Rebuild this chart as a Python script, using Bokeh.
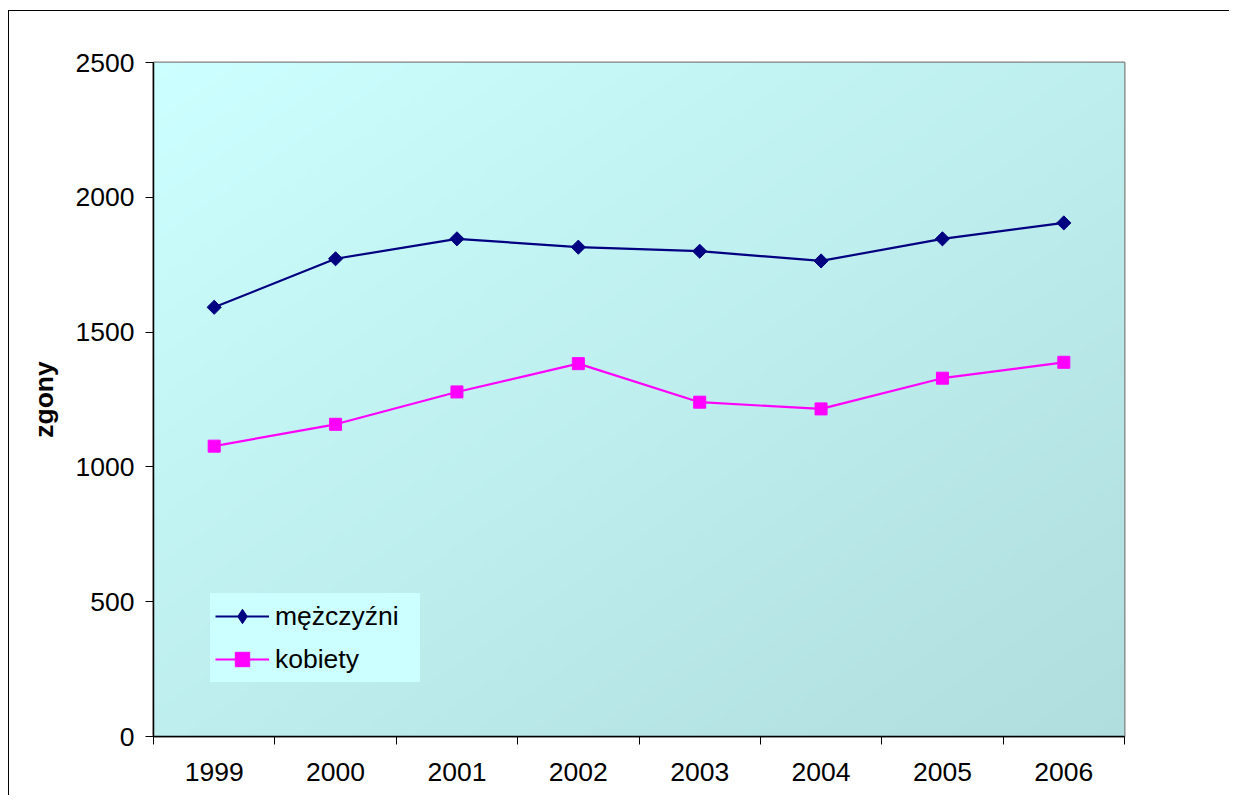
import numpy as np
from bokeh.plotting import figure
from bokeh.models import FixedTicker, Range1d, Legend, LegendItem
from bokeh.embed import file_html
from bokeh.resources import INLINE

years = ["1999", "2000", "2001", "2002", "2003", "2004", "2005", "2006"]
men = [1592, 1772, 1846, 1815, 1800, 1764, 1846, 1905]
women = [1077, 1158, 1278, 1383, 1240, 1215, 1329, 1388]
y_ticks = [0, 500, 1000, 1500, 2000, 2500]
series_names = ["mężczyźni", "kobiety"]

FONT = "Liberation Sans"
FS = "26.5px"
x_start, x_end = 0, len(years)
y_start, y_end = 0, 2500
centers = [i + 0.5 for i in range(len(years))]
bounds = list(range(len(years) + 1))

p = figure(width=1229, height=795, output_backend="svg", toolbar_location=None,
           x_range=Range1d(x_start, x_end), y_range=Range1d(y_start, y_end),
           min_border_left=153, min_border_right=105, min_border_top=62, min_border_bottom=59)
p.styles = {
    "background": "linear-gradient(#000,#000) 8px 10px / 1px 100% no-repeat, "
                  "linear-gradient(#000,#000) 8px 10px / 100% 1px no-repeat, #fff",
}
p.background_fill_color = "white"
p.border_fill_color = "white"
p.border_fill_alpha = 0
p.outline_line_color = "#808080"
p.outline_line_width = 2
p.xgrid.visible = False
p.ygrid.visible = False

# diagonal gradient background of the plot area (light top-left, darker bottom-right)
ny, nx = 337, 486
yy, xx = np.mgrid[0:ny, 0:nx]
t = (xx / (nx - 1) + (1 - yy / (ny - 1))) / 2.0   # image row 0 is at the bottom
c0 = np.array([204, 255, 255])
c1 = np.array([176, 221, 221])
img = np.empty((ny, nx), dtype=np.uint32)
view = img.view(dtype=np.uint8).reshape((ny, nx, 4))
for k in range(3):
    view[:, :, k] = np.round(c0[k] + (c1[k] - c0[k]) * t).astype(np.uint8)
view[:, :, 3] = 255
p.image_rgba(image=[img], x=x_start, y=y_start, dw=x_end - x_start, dh=y_end - y_start)

NAVY, MAG = "#000080", "#FF00FF"
l1 = p.line(centers, men, line_color=NAVY, line_width=2.2)
p.scatter(centers, men, marker="square", angle=np.pi / 4, size=10, fill_color=NAVY, line_color=NAVY)
leg_d = p.scatter([np.nan], [np.nan], marker="diamond", size=18, fill_color=NAVY, line_color=NAVY)
l2 = p.line(centers, women, line_color=MAG, line_width=2.2)
s2 = p.scatter(centers, women, marker="square", size=12, fill_color=MAG, line_color=MAG)

legend = Legend(items=[LegendItem(label=series_names[0], renderers=[l1, leg_d]),
                       LegendItem(label=series_names[1], renderers=[l2, s2])])
p.add_layout(legend, "center")
legend.location = (57, 54)
legend.margin = 0
legend.padding = 0
legend.spacing = 7
legend.glyph_width = 54
legend.glyph_height = 36
legend.label_height = 36
legend.label_width = 140
legend.label_standoff = 6
legend.label_text_font = FONT
legend.label_text_font_size = FS
legend.label_text_color = "black"
legend.background_fill_color = "#CCFFFF"
legend.background_fill_alpha = 1
legend.border_line_color = "#CCFFFF"
legend.border_line_width = 5

# x axis: labels at category centres, tick marks at category boundaries
p.xaxis.ticker = FixedTicker(ticks=centers, minor_ticks=bounds)
p.xaxis.major_label_overrides = {c: y for c, y in zip(centers, years)}
p.xaxis.major_tick_line_color = None
p.xaxis.major_tick_out = 0
p.xaxis.major_tick_in = 0
p.xaxis.minor_tick_line_color = "black"
p.xaxis.minor_tick_out = 8
p.xaxis.minor_tick_in = 0
p.xaxis.major_label_standoff = 18
p.xaxis.axis_line_color = "black"
p.xaxis.axis_line_width = 1.5

# y axis
p.yaxis.ticker = FixedTicker(ticks=y_ticks, minor_ticks=[])
p.yaxis.major_tick_out = 8
p.yaxis.major_tick_in = 0
p.yaxis.major_tick_line_color = "black"
p.yaxis.minor_tick_line_color = None
p.yaxis.major_label_standoff = 11
p.yaxis.axis_line_color = "black"
p.yaxis.axis_line_width = 1.5
p.yaxis.axis_label = "zgony"
p.yaxis.axis_label_text_font_style = "bold"
p.yaxis.axis_label_standoff = 14

for ax in (p.xaxis, p.yaxis):
    ax.major_label_text_font = FONT
    ax.major_label_text_font_size = FS
    ax.major_label_text_color = "black"
    ax.axis_label_text_font = FONT
    ax.axis_label_text_font_size = FS
    ax.axis_label_text_color = "black"

open("out.html", "w").write(file_html(p, INLINE))
